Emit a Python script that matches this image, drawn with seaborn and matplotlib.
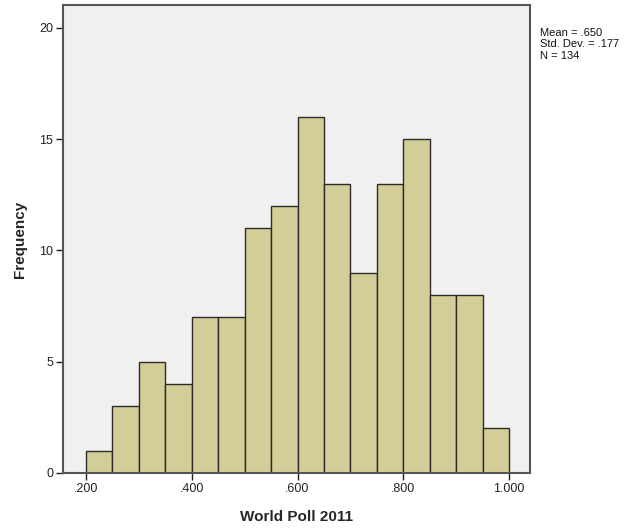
import numpy as np
import pandas as pd
import matplotlib
matplotlib.use('Agg')
import matplotlib.pyplot as plt
import seaborn as sns

# bin edges and counts
bin_edges = [0.20, 0.25, 0.30, 0.35, 0.40, 0.45, 0.50, 0.55, 0.60,
             0.65, 0.70, 0.75, 0.80, 0.85, 0.90, 0.95, 1.00]
counts = [1, 3, 5, 4, 7, 7, 11, 12, 16, 13, 9, 13, 15, 8, 8, 2]
x_ticks = [0.2, 0.4, 0.6, 0.8, 1.0]
x_tick_labels = ['.200', '.400', '.600', '.800', '1.000']
y_ticks = [0, 5, 10, 15, 20]

centers = [(a + b) / 2 for a, b in zip(bin_edges[:-1], bin_edges[1:])]
df = pd.DataFrame({'score': centers, 'n': counts})

sns.set_style('white')
plt.rcParams['font.family'] = ['Liberation Sans', 'DejaVu Sans']

fig = plt.figure(figsize=(6.34, 5.29), dpi=100)
ax = fig.add_axes([0.0994, 0.1059, 0.7366, 0.8846])
ax.set_facecolor('#f0f0f0')

sns.histplot(data=df, x='score', weights='n', bins=bin_edges, ax=ax,
             color='#d3ce98', edgecolor='#2b2b2b', linewidth=1.0, alpha=1)

ax.set_xlim(0.1565, 1.0397)
ax.set_ylim(0, 21.03)
ax.set_xticks(x_ticks)
ax.set_xticklabels(x_tick_labels)
ax.set_yticks(y_ticks)
ax.tick_params(axis='both', direction='out', length=5, width=1, color='#222222',
               labelsize=9, labelcolor='#222222', pad=2,
               bottom=True, left=True, top=False, right=False)

for s in ax.spines.values():
    s.set_color('#555555')
    s.set_linewidth(1.5)

ax.set_xlabel('World Poll 2011', fontsize=11, fontweight='bold', labelpad=11)
ax.set_ylabel('Frequency', fontsize=11, fontweight='bold', labelpad=9)

fig.text(0.851, 0.948, 'Mean = .650\nStd. Dev. = .177\nN = 134',
         fontsize=8, va='top', ha='left', linespacing=1.2, color='#111111')

fig.savefig('out.png', dpi=100)
